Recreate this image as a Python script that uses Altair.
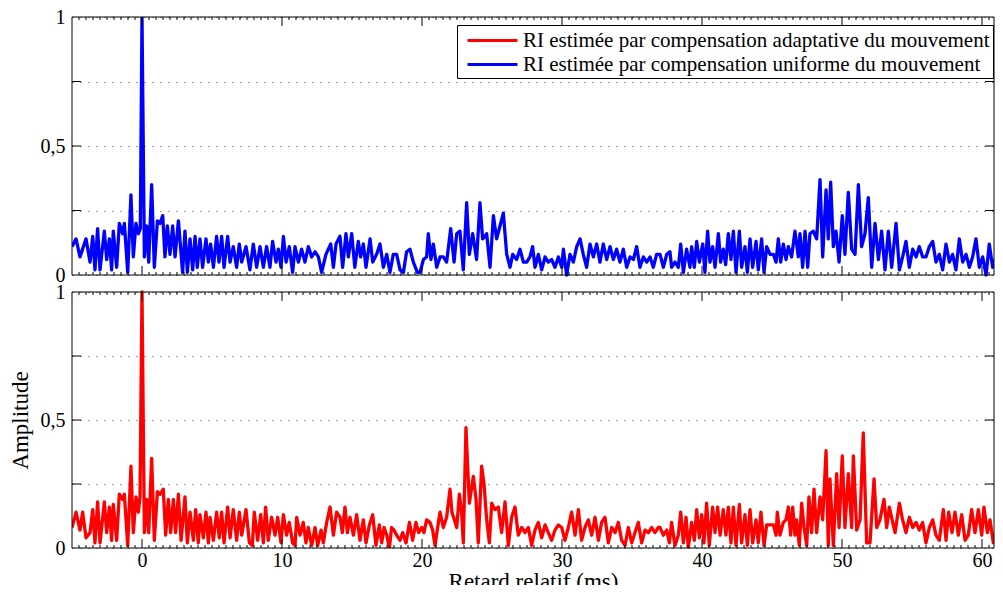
import altair as alt
import pandas as pd
import numpy as np

LBL_A = "RI estimée par compensation adaptative du mouvement"
LBL_U = "RI estimée par compensation uniforme du mouvement"

# ---- blue series (uniform compensation), [retard ms, amplitude]
blue_seg1 = [(-5.0, .11), (-4.71, .14), (-4.43, .07), (-4.0, .14), (-3.71, .05), (-3.52, .15), (-3.36, .02),
             (-3.17, .18), (-3.0, .02), (-2.69, .17), (-2.52, .06), (-2.33, .14), (-2.17, .02), (-2.05, .17),
             (-1.81, .03), (-1.62, .20), (-1.38, .16), (-1.26, .20), (-1.02, .01), (-0.79, .31), (-0.62, .07),
             (-0.43, .20), (-0.26, .16), (-0.12, .18), (0.0, 1.0), (0.17, .07), (0.33, .19), (0.48, .05),
             (0.69, .35), (0.88, .03), (1.10, .21), (1.29, .20), (1.48, .23), (1.64, .07), (1.81, .19),
             (2.0, .08), (2.19, .19), (2.36, .07), (2.60, .21), (2.90, .01), (3.07, .17), (3.24, .01),
             (3.43, .14), (3.62, .02), (3.79, .15), (3.95, .03), (4.14, .14), (4.33, .03), (4.57, .14),
             (4.74, .05), (4.90, .12), (5.10, .03), (5.33, .15), (5.50, .05), (5.69, .15), (5.86, .03),
             (6.12, .15), (6.29, .05), (6.52, .11), (6.76, .03), (6.95, .12), (7.12, .05), (7.43, .11),
             (7.71, .02), (7.95, .12), (8.19, .03), (8.43, .11), (8.67, .03), (8.90, .11), (9.14, .03),
             (9.33, .13), (9.57, .05), (9.74, .10), (9.93, .03), (10.10, .15), (10.29, .05), (10.52, .11),
             (10.76, .01), (10.93, .11), (11.17, .05), (11.40, .10), (11.64, .05), (11.88, .11), (12.12, .07),
             (12.36, .09), (12.60, .07), (12.83, .01), (13.14, .08), (13.48, .12), (13.67, .03), (13.86, .12)]
blue_seg2 = [(14.14, .15), (14.33, .03), (14.57, .16), (14.74, .07), (14.98, .16), (15.2, .03), (15.45, .13),
             (15.62, .07), (15.81, .12), (16.0, .03), (16.29, .14), (16.48, .05), (16.76, .08), (17.0, .12),
             (17.24, .03), (17.48, .08), (17.71, .01), (17.95, .08), (18.19, .08), (18.43, .02), (18.67, .01),
             (18.9, .09), (19.14, .10), (19.38, .05), (19.67, .01), (19.86, .01), (20.1, .06), (20.33, .07),
             (20.45, .16), (20.64, .06), (20.81, .12), (21.05, .03), (21.29, .07), (21.52, .07), (21.76, .05),
             (22.05, .18), (22.29, .05), (22.48, .16), (22.71, .17), (22.95, .02), (23.19, .28), (23.38, .08),
             (23.62, .16), (23.9, .06), (24.14, .28), (24.33, .14), (24.5, .15), (24.62, .16), (24.86, .03),
             (25.1, .23), (25.33, .14), (25.57, .19), (25.81, .24), (26.05, .08), (26.29, .03), (26.48, .08),
             (26.76, .06), (27.0, .10), (27.24, .05), (27.48, .05), (27.71, .07), (27.9, .11), (28.07, .03),
             (28.31, .08), (28.55, .02), (28.79, .07), (29.02, .05), (29.26, .06), (29.5, .03), (29.74, .07),
             (29.98, .03), (30.1, .10), (30.33, .00), (30.57, .08), (30.81, .05), (31.05, .11), (31.29, .14),
             (31.52, .08), (31.76, .03), (32.0, .12), (32.24, .07), (32.48, .12), (32.71, .05), (32.95, .12),
             (33.19, .06), (33.43, .11), (33.67, .06), (33.9, .10), (34.14, .05), (34.38, .10), (34.62, .03),
             (34.86, .07), (35.1, .06), (35.33, .11), (35.57, .03), (35.81, .07), (36.05, .05), (36.29, .07),
             (36.52, .03), (36.76, .08)]
blue_seg3 = [(37.0, .08), (37.24, .03), (37.48, .08), (37.71, .09), (37.83, .03), (38.07, .05), (38.31, .03),
             (38.48, .12), (38.67, .01), (38.9, .10), (39.14, .03), (39.26, .11), (39.45, .03), (39.62, .13),
             (39.81, .05), (40.05, .12), (40.21, .01), (40.4, .17), (40.57, .05), (40.76, .11), (40.93, .03),
             (41.17, .16), (41.33, .05), (41.52, .10), (41.69, .04), (41.88, .16), (42.07, .06), (42.24, .17),
             (42.43, .01), (42.67, .17), (42.83, .03), (43.07, .11), (43.24, .01), (43.43, .14), (43.62, .03),
             (43.86, .13), (44.02, .02), (44.26, .14), (44.43, .01), (44.62, .11), (44.86, .08), (45.1, .08),
             (45.29, .05), (45.45, .14), (45.62, .05), (45.81, .12), (46.0, .06), (46.17, .11), (46.4, .07),
             (46.64, .17), (46.88, .07), (47.0, .16), (47.19, .03), (47.36, .17), (47.55, .03), (47.71, .16),
             (47.95, .17), (48.19, .14), (48.43, .37), (48.62, .07), (48.86, .33), (49.02, .14), (49.19, .36),
             (49.38, .11), (49.57, .17), (49.79, .05), (50.02, .23), (50.21, .08), (50.45, .32), (50.69, .10),
             (50.93, .08), (51.17, .35), (51.4, .11), (51.64, .16), (51.88, .30), (52.12, .03), (52.36, .20),
             (52.6, .06), (52.83, .17), (53.07, .02), (53.31, .17), (53.55, .03), (53.86, .20), (54.1, .02),
             (54.33, .07), (54.57, .13), (54.81, .03), (55.05, .10), (55.29, .07), (55.52, .11), (55.76, .07),
             (56.0, .07), (56.24, .11), (56.48, .13), (56.71, .05), (56.95, .08), (57.19, .02), (57.43, .12),
             (57.67, .05), (57.9, .08), (58.14, .02), (58.38, .14), (58.62, .05), (58.86, .08), (59.1, .03),
             (59.33, .07), (59.57, .14), (59.81, .03), (60.05, .07), (60.29, .00), (60.52, .12), (60.76, .03),
             (61.0, .07), (61.24, .07), (61.48, .05)]

# ---- red series (adaptive compensation)
red_seg1 = [(-5.0, .08), (-4.71, .14), (-4.43, .07), (-4.24, .14), (-4.0, .04), (-3.71, .06), (-3.52, .15),
            (-3.36, .02), (-3.17, .18), (-3.0, .02), (-2.69, .18), (-2.52, .06), (-2.33, .16), (-2.17, .03),
            (-2.05, .17), (-1.81, .03), (-1.62, .21), (-1.38, .19), (-1.26, .21), (-1.02, .01), (-0.79, .32),
            (-0.62, .06), (-0.43, .20), (-0.26, .14), (-0.14, .20), (0.0, 1.0), (0.17, .06), (0.33, .19),
            (0.48, .06), (0.69, .35), (0.88, .03), (1.10, .22), (1.29, .21), (1.52, .23), (1.69, .05),
            (1.88, .19), (2.05, .06), (2.24, .19), (2.40, .06), (2.60, .21), (2.79, .03), (3.07, .20),
            (3.24, .02), (3.43, .14), (3.67, .03), (3.83, .15), (4.02, .02), (4.14, .13), (4.38, .04),
            (4.57, .14), (4.74, .02), (4.86, .12), (5.10, .03), (5.33, .14), (5.52, .04), (5.69, .14),
            (5.86, .02), (6.12, .16), (6.29, .04), (6.52, .15), (6.76, .03), (6.95, .14), (7.12, .05),
            (7.43, .15), (7.67, .02), (7.88, .01), (8.02, .14), (8.26, .03), (8.48, .13), (8.67, .02),
            (8.83, .16), (9.02, .03), (9.26, .12), (9.50, .05), (9.69, .12), (9.93, .02), (10.10, .13),
            (10.33, .05), (10.52, .10), (10.76, .02), (10.93, .01), (11.05, .12), (11.29, .05), (11.52, .10),
            (11.71, .02), (11.88, .08), (12.12, .01), (12.36, .08), (12.55, .01), (12.79, .07), (12.95, .02),
            (13.19, .10), (13.43, .16), (13.67, .05), (13.90, .14)]
red_seg2 = [(14.14, .12), (14.31, .06), (14.5, .16), (14.67, .06), (14.86, .12), (15.1, .05), (15.33, .13),
            (15.57, .03), (15.81, .11), (16.0, .02), (16.24, .09), (16.48, .13), (16.71, .01), (16.95, .09),
            (17.12, .02), (17.29, .08), (17.48, .05), (17.67, .00), (17.83, .08), (18.0, .07), (18.19, .05),
            (18.43, .03), (18.62, .06), (18.86, .02), (19.1, .10), (19.33, .03), (19.57, .10), (19.76, .06),
            (19.98, .08), (20.14, .06), (20.33, .11), (20.57, .10), (20.76, .07), (20.93, .01), (21.17, .10),
            (21.29, .14), (21.52, .08), (21.76, .12), (22.0, .23), (22.14, .14), (22.31, .11), (22.48, .08),
            (22.67, .21), (22.83, .14), (22.95, .02), (23.14, .47), (23.38, .175), (23.67, .28), (23.86, .19),
            (24.02, .02), (24.26, .32), (24.43, .25), (24.62, .11), (24.81, .02), (24.98, .175), (25.21, .15),
            (25.45, .16), (25.69, .06), (25.93, .18), (26.17, .01), (26.4, .12), (26.64, .16), (26.88, .05),
            (27.12, .08), (27.36, .06), (27.6, .08), (27.83, .01), (28.07, .07), (28.31, .10), (28.55, .04),
            (28.79, .09), (29.02, .06), (29.26, .03), (29.5, .07), (29.74, .09), (29.98, .08), (30.21, .03),
            (30.45, .08), (30.69, .14), (30.93, .05), (31.17, .15), (31.4, .03), (31.64, .08), (31.88, .11),
            (32.12, .05), (32.36, .12), (32.6, .03), (32.83, .10), (33.07, .12), (33.31, .02), (33.55, .08),
            (33.79, .06), (34.02, .10), (34.26, .03), (34.5, .01), (34.74, .08), (34.98, .02), (35.21, .06),
            (35.45, .10), (35.69, .02), (35.93, .07), (36.17, .06), (36.4, .08), (36.64, .06), (36.88, .08)]
red_seg3 = [(37.0, .08), (37.24, .05), (37.48, .07), (37.67, .02), (37.83, .10), (38.07, .01), (38.31, .05),
            (38.48, .14), (38.67, .02), (38.86, .12), (39.02, .00), (39.26, .10), (39.45, .03), (39.62, .15),
            (39.81, .04), (39.98, .13), (40.14, .02), (40.33, .175), (40.52, .01), (40.76, .16), (40.93, .06),
            (41.12, .16), (41.29, .05), (41.52, .15), (41.71, .05), (41.88, .16), (42.07, .02), (42.24, .16),
            (42.43, .01), (42.67, .17), (42.83, .02), (43.07, .13), (43.24, .01), (43.43, .15), (43.62, .02),
            (43.86, .11), (44.02, .02), (44.21, .14), (44.43, .01), (44.62, .09), (44.86, .09), (45.1, .09),
            (45.29, .05), (45.38, .14), (45.57, .05), (45.81, .10), (46.0, .11), (46.17, .16), (46.33, .05),
            (46.48, .16), (46.64, .05), (46.76, .11), (46.95, .01), (47.12, .175), (47.29, .08), (47.48, .01),
            (47.64, .20), (47.83, .06), (48.0, .23), (48.19, .06), (48.43, .20), (48.62, .11), (48.86, .38),
            (49.02, .01), (49.14, .27), (49.38, .01), (49.62, .29), (49.79, .08), (50.02, .36), (50.21, .08),
            (50.45, .29), (50.69, .08), (50.81, .36), (51.05, .07), (51.29, .11), (51.52, .45), (51.76, .02),
            (52.0, .02), (52.29, .27), (52.48, .08), (52.71, .11), (53.0, .19), (53.19, .08), (53.38, .16),
            (53.62, .10), (53.79, .06), (54.1, .175), (54.33, .11), (54.57, .06), (54.81, .12), (55.05, .08),
            (55.29, .10), (55.52, .07), (55.76, .10), (56.0, .02), (56.24, .08), (56.48, .11), (56.71, .05),
            (56.95, .03), (57.24, .15), (57.43, .03), (57.62, .14), (57.86, .06), (58.07, .14), (58.31, .05),
            (58.55, .13), (58.79, .03), (59.02, .05), (59.26, .15), (59.5, .06), (59.74, .15), (59.98, .05),
            (60.14, .16), (60.38, .06), (60.57, .11), (60.81, .02), (61.05, .08), (61.29, .06), (61.48, .08)]

x_major = [0, 10, 20, 30, 40, 50, 60]
x_minor = [v for v in np.arange(-4.5, 61.0, 0.5).tolist() if v % 10 != 0]
amp_inner = [0.25, 0.5, 0.75]

FONT = "Liberation Serif, Times New Roman, Times, DejaVu Serif, serif"
W = 922            # plot width (px)
HB = 256           # lower panel height (px) -> 1 amplitude unit
HT = 258           # upper panel height (px)
GAP = 17           # gap between panels (px)
K = HT / HB        # upper panel amplitude scale factor
Y0 = 1 + GAP / HB  # upper panel base
YT = Y0 + K        # upper panel top
H = HB + GAP + HT  # full height
XDOM = [-5, -5 + W / 14.0]

df = pd.concat([
    pd.DataFrame(red_seg1 + red_seg2 + red_seg3, columns=["t", "a"]).assign(s=LBL_A, k="a"),
    pd.DataFrame(blue_seg1 + blue_seg2 + blue_seg3, columns=["t", "a"]).assign(s=LBL_U, k="u"),
], ignore_index=True)

xscale = alt.Scale(domain=XDOM, nice=False, zero=False)
yscale = alt.Scale(domain=[0, YT], nice=False, zero=False)

y_vals = [0, 0.25, 0.5, 0.75, 1] + [Y0 + K * v for v in [0, 0.25, 0.5, 0.75, 1]]
eps = 1e-4
label_expr = (
    f"(abs(datum.value - 0.5) < {eps} || abs(datum.value - {Y0 + 0.5 * K}) < {eps}) ? '0,5' : "
    f"((abs(datum.value) < {eps} || abs(datum.value - {Y0}) < {eps}) ? '0' : "
    f"((abs(datum.value - 1) < {eps} || abs(datum.value - {YT}) < {eps}) ? '1' : ''))"
)

yaxis = alt.Axis(
    values=y_vals, grid=True, gridDash=[1, 7], gridColor="#333333", gridOpacity=1, gridWidth=1,
    ticks=False, domain=False, labelPadding=7, labelExpr=label_expr, labelOverlap=False,
    labelFlush=False, labelBound=False,
    title="Amplitude", titleAngle=270, titleAlign="center", titleBaseline="bottom",
    titleX=-40, titleY=H - HB / 2,
)
xaxis = alt.Axis(values=x_major, ticks=False, domain=False, grid=False, labelPadding=2,
                 labelOverlap=False, labelFlush=False,
                 title="Retard relatif (ms)", titlePadding=0)

legend = alt.Legend(
    title=None, orient="none", legendX=385, legendY=8, strokeColor="black", fillColor="white",
    padding=3, symbolType="M-2.27,0H2.27", symbolStrokeWidth=3, symbolSize=484, symbolOffset=20,
    labelFont=FONT, labelFontSize=21, labelColor="black", labelOffset=18, rowPadding=1,
    labelLimit=0, cornerRadius=0,
)

line = alt.Chart(df).transform_calculate(
    yp=f"datum.k == 'u' ? {Y0} + {K} * datum.a : datum.a"
).mark_line(strokeWidth=3.3, clip=True, strokeJoin="round").encode(
    x=alt.X("t:Q", scale=xscale, axis=xaxis),
    y=alt.Y("yp:Q", scale=yscale, axis=yaxis),
    color=alt.Color("s:N", scale=alt.Scale(domain=[LBL_A, LBL_U], range=["#ff0000", "#0000ff"]),
                    legend=legend),
    detail="k:N",
)

# panel frames
frames = pd.DataFrame({"lo": [0, Y0], "hi": [1, YT]})
frame = alt.Chart(frames).mark_rect(fillOpacity=0, stroke="black", strokeWidth=1).encode(
    y=alt.Y("lo:Q", scale=yscale), y2="hi:Q", x=alt.value(0), x2=alt.value(W)
)

rule = dict(color="black", strokeWidth=1)
bottom_edges = [0, Y0]
top_edges = [1, YT]


def xticks(vals, edges, off):
    d = pd.DataFrame([(t, e) for t in vals for e in edges], columns=["t", "e"])
    return alt.Chart(d).mark_rule(y2Offset=off, **rule).encode(
        x=alt.X("t:Q", scale=xscale), y=alt.Y("e:Q", scale=yscale), y2="e:Q"
    )


ticks_in = pd.DataFrame({"yp": amp_inner + [Y0 + K * v for v in amp_inner]})
yt_left = alt.Chart(ticks_in).mark_rule(**rule).encode(
    y=alt.Y("yp:Q", scale=yscale), x=alt.value(0), x2=alt.value(9))
yt_right = alt.Chart(ticks_in).mark_rule(**rule).encode(
    y=alt.Y("yp:Q", scale=yscale), x=alt.value(W), x2=alt.value(W - 9))

chart = alt.layer(
    line,
    frame,
    xticks(x_major, bottom_edges, -9),
    xticks(x_major, top_edges, 9),
    xticks(x_minor, bottom_edges, -3),
    xticks(x_minor, top_edges, 3),
    yt_left,
    yt_right,
).properties(
    width=W, height=H,
    autosize=alt.AutoSizeParams(type="none"),
    padding={"left": 64, "top": 9, "right": 1, "bottom": 37},
).configure_axis(
    labelFont=FONT, titleFont=FONT, labelFontSize=20, titleFontSize=23, labelColor="black",
    titleColor="black", titleFontWeight="normal",
).configure_view(strokeWidth=0)

chart.save("out.html", embed_options={"renderer": "svg", "actions": False})
